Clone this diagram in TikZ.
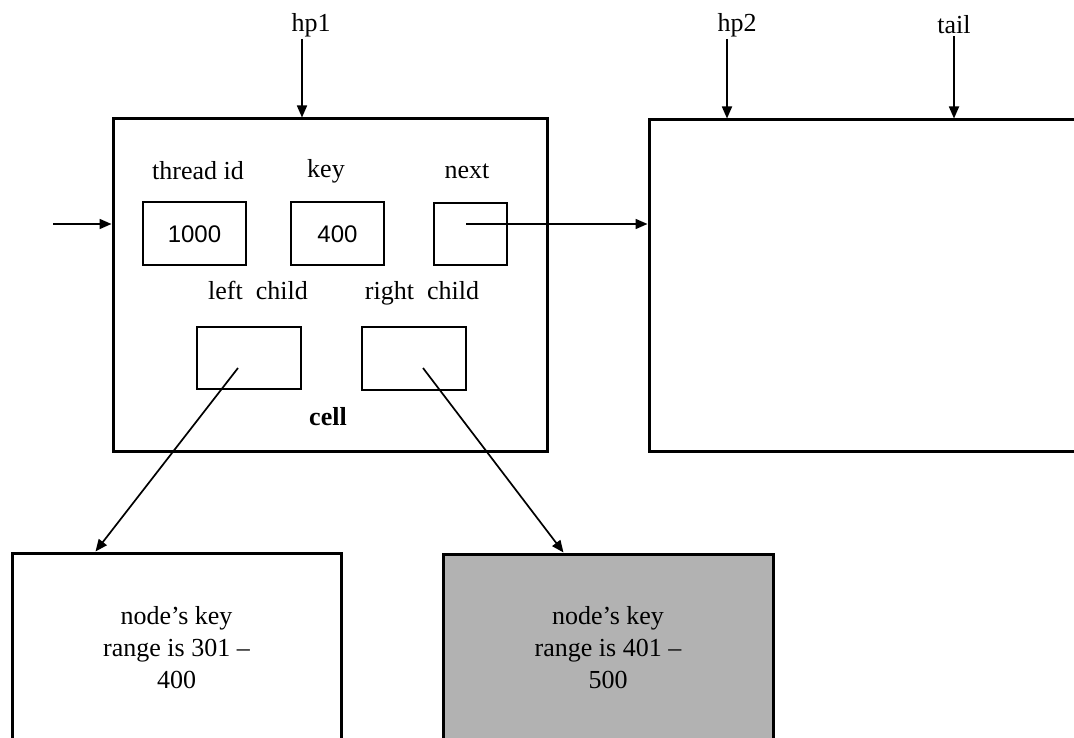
\documentclass[tikz,border=0pt]{standalone}
\usepackage{fontspec}
\setmainfont{Liberation Serif}
\newfontfamily\digitfont{Liberation Sans}
\usetikzlibrary{arrows.meta}
\definecolor{shade}{gray}{0.70}
\tikzset{
  bigbox/.style={draw, line width=3pt, inner sep=0pt},
  fieldbox/.style={draw, line width=1.8pt, inner sep=0pt},
  lbl/.style={inner sep=0pt, font=\fontsize{26}{32}\selectfont},
  num/.style={inner sep=0pt, font=\digitfont\fontsize{24}{28}\selectfont},
  arr/.style={line width=1.7pt, -{Triangle[length=12pt,width=10pt]}},
}
\begin{document}
\begin{tikzpicture}[x=1pt, y=-1pt]
\useasboundingbox (0,0) rectangle (1074,738);
\clip (0,0) rectangle (1074,738);
\fill[white] (0,0) rectangle (1074,738);

% main boxes
\node[bigbox, minimum width=434pt, minimum height=332pt] (cell) at (330,285) {};
\node[bigbox, minimum width=441pt, minimum height=331pt] (rbox) at (869.5,285.5) {};

% field boxes
\node[fieldbox, minimum width=103pt, minimum height=63pt] (f1) at (194.5,233.5) {};
\node[fieldbox, minimum width=93pt, minimum height=63pt] (f2) at (337.5,233.5) {};
\node[fieldbox, minimum width=73pt, minimum height=62pt] (f3) at (470.5,234) {};
\node[fieldbox, minimum width=104pt, minimum height=62pt] (lc) at (249,358) {};
\node[fieldbox, minimum width=104pt, minimum height=63pt] (rc) at (414,358.5) {};

\node[num] (v1) at (194.5,234) {1000};
\node[num] (v2) at (337.5,234) {400};

% labels in cell
\node[lbl] (tid) at (198,171) {thread id};
\node[lbl] (key) at (326,171) {key};
\node[lbl] (nxt) at (467,171) {next};
\node[lbl] (lcl) at (258,290) {left\ \ child};
\node[lbl] (rcl) at (422,293) {right\ \ child};
\node[lbl, font=\bfseries\fontsize{26}{32}\selectfont] (celll) at (328,417) {cell};

% bottom boxes
\node[bigbox, minimum width=329pt, minimum height=189pt, align=center,
      font=\fontsize{26}{32}\selectfont] (bl) at (176.5,647.5)
      {node’s key\\range is 301 –\\400};
\node[bigbox, fill=shade, minimum width=330pt, minimum height=188pt, align=center,
      font=\fontsize{26}{32}\selectfont] (br) at (608,648)
      {node’s key\\range is 401 –\\500};

% pointer labels
\node[lbl] (hp1) at (311,25) {hp1};
\node[lbl] (hp2) at (737,25) {hp2};
\node[lbl] (tail) at (954,25) {tail};

\draw[arr] ([xshift=-9pt,yshift=-2pt]hp1.south) -- ([xshift=-9pt]hp1.south |- cell.north);
\draw[arr] ([xshift=-10pt,yshift=-2pt]hp2.south) -- ([xshift=-10pt]hp2.south |- rbox.north);
\draw[arr] ([yshift=-2pt]tail.south) -- (tail.south |- rbox.north);

% incoming arrow into cell
\coordinate (inl) at (53,224);
\draw[arr] (inl) -- (inl -| cell.west);

% next pointer
\coordinate (nst) at (466,224);
\draw[arr] (nst) -- (nst -| rbox.west);

% child pointers
\coordinate (lcs) at (238,368);
\coordinate (rcs) at (423,368);
\draw[arr] (lcs) -- ([xshift=85pt]bl.north west);
\draw[arr] (rcs) -- ([xshift=122pt]br.north west);
\end{tikzpicture}
\end{document}
